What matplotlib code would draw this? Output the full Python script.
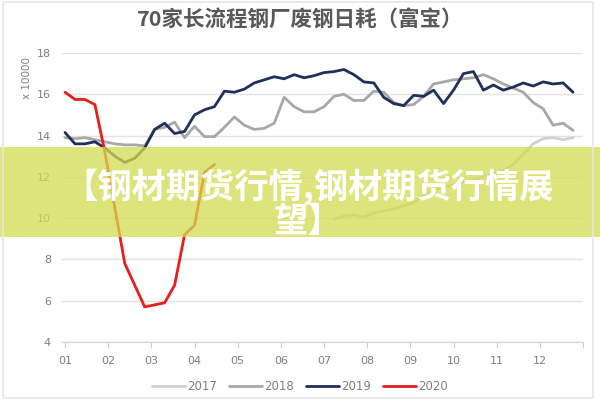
import numpy as np
import matplotlib
matplotlib.use("Agg")
import matplotlib.pyplot as plt
from matplotlib.patches import Rectangle

plt.rcParams['font.family'] = ['Noto Sans CJK SC', 'DejaVu Sans']

nan = np.nan
months = ['01', '02', '03', '04', '05', '06', '07', '08', '09', '10', '11', '12']
years = ['2017', '2018', '2019', '2020']

v2017 = [nan] * 27 + [9.95, 10.1, 10.15, 10.05, 10.25, 10.35, 10.45, 10.6, 10.75, 11.1,
                      11.35, 11.5, 11.6, 11.75, 11.85, 12.0, 12.15, 12.3, 12.6, 13.1,
                      13.6, 13.85, 13.9, 13.8, 13.9]
v2018 = [13.9, 13.85, 13.9, 13.8, 13.7, 13.6, 13.55, 13.55, 13.5, 14.3,
         14.4, 14.65, 13.9, 14.45, 13.95, 13.95, 14.4, 14.9, 14.5, 14.3,
         14.35, 14.6, 15.85, 15.4, 15.15, 15.15, 15.4, 15.9, 16.0, 15.7,
         15.7, 16.15, 16.1, 15.6, 15.45, 15.5, 15.9, 16.5, 16.6, 16.7,
         16.75, 16.8, 16.95, 16.75, 16.5, 16.3, 16.1, 15.6, 15.3, 14.5,
         14.6, 14.25]
v2019 = [14.15, 13.6, 13.6, 13.7, 13.4, 13.0, 12.7, 12.9, 13.4, 14.3,
         14.6, 14.1, 14.2, 15.0, 15.25, 15.4, 16.15, 16.1, 16.25, 16.55,
         16.7, 16.85, 16.75, 16.95, 16.8, 16.9, 17.05, 17.1, 17.2, 16.95,
         16.6, 16.55, 15.85, 15.55, 15.45, 15.95, 15.9, 16.2, 15.55, 16.2,
         17.0, 17.1, 16.2, 16.45, 16.2, 16.35, 16.55, 16.4, 16.6, 16.5,
         16.55, 16.1]
v2020 = [16.1, 15.75, 15.75, 15.5, 13.2, 10.5, 7.8, 6.75, 5.7, 5.8,
         5.9, 6.75, 9.2, 9.65, 12.2, 12.6]

series = [v2017, v2018, v2019, v2020]
colors = ['#d0d0d0', '#a8a8a8', '#1f2f5e', '#e61e1e']

fig = plt.figure(figsize=(6, 4), dpi=100)
fig.patch.set_facecolor('white')
ax = fig.add_axes([62/600, 1-342/400, (583-62)/600, (342-53)/400])

for vals, c, lab in zip(series, colors, years):
    x = 1 + np.arange(len(vals)) * 12 / 52
    ax.plot(x, vals, color=c, lw=2.0, label=lab, solid_capstyle='round', solid_joinstyle='round')

ax.set_ylim(4, 18)
ax.set_yticks([4, 6, 8, 10, 12, 14, 16, 18])
ax.set_xlim(0.93, 13.0)
ax.set_xticks(range(1, 14))
ax.set_xticklabels(months + [''])
ax.grid(axis='y', color='#e3e3e3', lw=1)
ax.set_axisbelow(True)
for s in ['top', 'right', 'left']:
    ax.spines[s].set_visible(False)
ax.spines['bottom'].set_color('#d0d0d0')
ax.tick_params(axis='y', length=0, labelsize=8, labelcolor='#7f7f7f', pad=8)
ax.tick_params(axis='x', length=4, color='#d0d0d0', labelsize=8, labelcolor='#7f7f7f', pad=6)
for t in ax.get_xticklabels() + ax.get_yticklabels():
    t.set_family(['DejaVu Sans'])

fig.text(27/600, 1-78/400, 'x 10000', rotation=90, ha='center', va='center',
         fontsize=7.5, color='#7f7f7f', family=['DejaVu Sans'])

fig.text(0.5, 1-19/400, '70家长流程钢厂废钢日耗（富宝）', ha='center', va='center',
         fontsize=15.5, fontweight='bold', color='#595959')

fig.legend(loc='center', bbox_to_anchor=(0.5, 1-387/400), ncol=4, frameon=False,
           handlelength=2.8, columnspacing=1.0, handletextpad=0.2,
           prop={'size': 8.5, 'family': ['DejaVu Sans']}, labelcolor='#7f7f7f')

band = Rectangle((0, 1-237/400), 1, 90/400, transform=fig.transFigure,
                 facecolor='#d4dc50', alpha=0.75, edgecolor='none', zorder=5)
fig.add_artist(band)
fig.text(0.515, 1-187/400, '【钢材期货行情,钢材期货行情展', ha='center', va='center',
         fontsize=24.7, fontweight='bold', color='white', zorder=6)
fig.text(0.513, 1-221/400, '望】', ha='center', va='center',
         fontsize=24.7, fontweight='bold', color='white', zorder=6)

border = Rectangle((3/600, 2/400), 590/600, 396/400, transform=fig.transFigure,
                   facecolor='none', edgecolor='#e6e6e6', lw=1.2, zorder=7)
fig.add_artist(border)

fig.savefig('out.png', dpi=100)
